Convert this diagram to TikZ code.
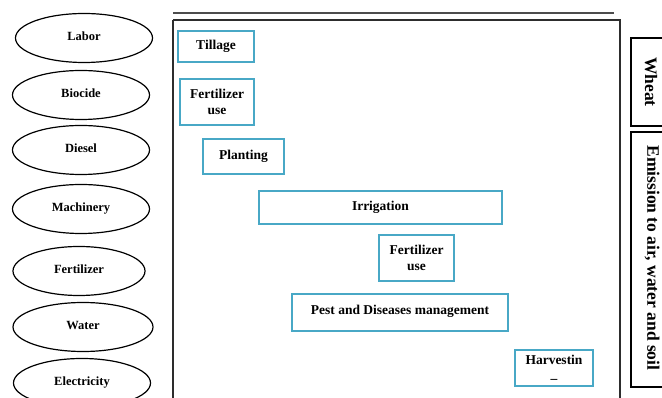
\documentclass[tikz,border=0pt]{standalone}
\usepackage{fontspec}
\setmainfont{Liberation Serif}
\usetikzlibrary{shapes.geometric}
\definecolor{boxblue}{RGB}{72,168,198}
\definecolor{frame}{RGB}{45,45,45}
\tikzset{
  inp/.style={ellipse, draw=black, line width=1.2pt, minimum width=137pt, minimum height=49pt, inner sep=0pt, font=\fontsize{12.5}{15}\selectfont\bfseries},
  stepbox/.style={rectangle, draw=boxblue, line width=1.4pt, inner sep=0pt, align=center, font=\fontsize{13.5}{16.5}\selectfont\bfseries},
  sidebox/.style={rectangle, draw=black, line width=1.4pt, inner sep=0pt},
  sidetext/.style={rotate=-90, font=\fontsize{17.5}{20}\selectfont\bfseries}
}
\begin{document}
\begin{tikzpicture}[x=1pt,y=-1pt]
\useasboundingbox (0,0) rectangle (662,398);
\clip (0,0) rectangle (662,398);
% input ellipses
\node[inp] (labor) at (84,38) {\raisebox{4pt}{Labor}};
\node[inp] (biocide) at (81,95) {\raisebox{3pt}{Biocide}};
\node[inp] (diesel) at (81,150) {\raisebox{3pt}{Diesel}};
\node[inp] (mach) at (81,209) {\raisebox{3pt}{Machinery}};
\node[inp, minimum width=132pt] (fert) at (79,271) {\raisebox{3pt}{Fertilizer}};
\node[inp, minimum width=140pt] (water) at (83,327) {\raisebox{3pt}{Water}};
\node[inp] (elec) at (82,383) {\raisebox{2pt}{Electricity}};
% main frame
\draw[frame, line width=1.5pt] (173,20) -- (620,20) -- (620,420);
\draw[frame, line width=1.5pt] (173,20) -- (173,420);
\coordinate (tl) at (173,13);
\coordinate (tr) at (614,13);
\draw[black!70, line width=1.1pt] (tl) -- (tr);
% steps
\node[stepbox, minimum width=76pt, minimum height=31pt] (till) at (216,46.5) {Tillage};
\node[stepbox, minimum width=74pt, minimum height=46pt] (fu1) at (217,102) {Fertilizer\\use};
\node[stepbox, minimum width=81pt, minimum height=35pt] (plant) at (243.5,156.5) {\raisebox{3pt}{Planting}};
\node[stepbox, minimum width=243pt, minimum height=33pt] (irr) at (380.5,207.5) {\raisebox{2pt}{Irrigation}};
\node[stepbox, minimum width=75pt, minimum height=46pt] (fu2) at (416.5,258) {Fertilizer\\use};
\node[stepbox, minimum width=216pt, minimum height=37pt] (pest) at (400,312.5) {\raisebox{5pt}{Pest and Diseases management}};
\node[stepbox, minimum width=78pt, minimum height=36pt] (harv) at (554,368) {Harvestin\\[-3pt]\_};
% side boxes
\draw[sidebox] (670,38) -- (631,38) -- (631,126) -- (670,126);
\draw[sidebox] (670,132) -- (631,132) -- (631,387) -- (670,387);
\node[sidetext] (wheat) at (651,82) {Wheat};
\node[sidetext] (emis) at (652,258) {Emission to air, water and soil};
\end{tikzpicture}
\end{document}
